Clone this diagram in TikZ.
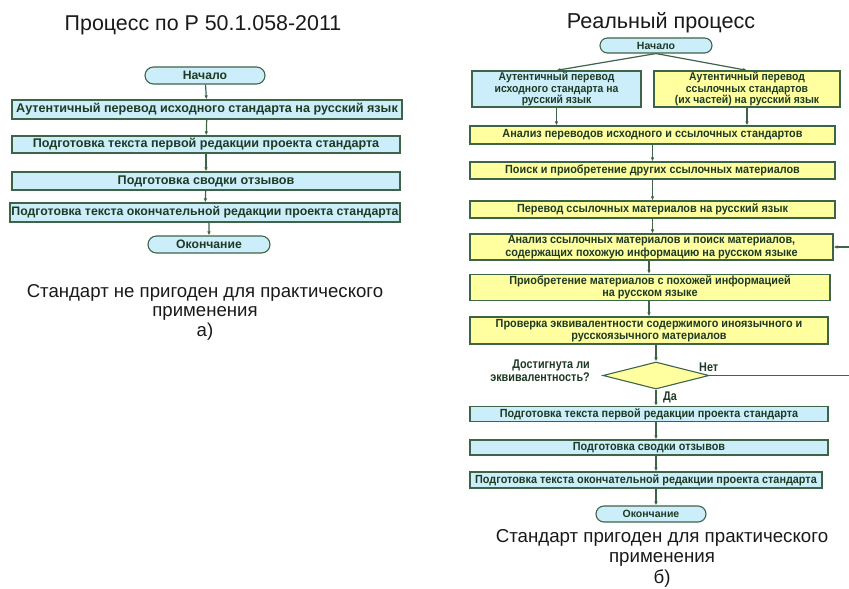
\documentclass[tikz,border=0pt]{standalone}
\usepackage{fontspec}
\setmainfont{Liberation Sans}
\newfontfamily\narrowfont{Liberation Sans}[FakeStretch=0.86]
\newfontfamily\semifont{Liberation Sans}[FakeStretch=0.92]
\usetikzlibrary{shapes.geometric,shapes.misc,arrows.meta}
\definecolor{boxblue}{RGB}{204,238,250}
\definecolor{boxyellow}{RGB}{255,255,160}
\definecolor{edge}{RGB}{62,100,72}
\definecolor{txt}{RGB}{30,58,36}
\definecolor{head}{RGB}{25,25,25}
\tikzset{
  base/.style={draw=edge, line width=1.3pt, text=txt, inner sep=0pt, align=center},
  bluebox/.style={base, fill=boxblue, rectangle},
  yelbox/.style={base, fill=boxyellow, rectangle},
  term/.style={base, fill=boxblue, rounded rectangle, line width=1.1pt},
  decide/.style={base, fill=boxyellow, diamond, line width=1.1pt},
  lbig/.style={font=\fontsize{12.6}{13}\selectfont\bfseries},
  lfit/.style={font=\fontsize{12.3}{13}\selectfont\bfseries},
  rsm/.style={font=\semifont\fontsize{11.8}{12.4}\selectfont\bfseries},
  rtop/.style={font=\semifont\fontsize{11.3}{11.6}\selectfont\bfseries},
  caption/.style={text=head, align=center, inner sep=0pt},
  conn/.style={draw=edge, line width=1.2pt, -{Latex[length=4pt,width=3.6pt]}},
  lbl/.style={text=txt, inner sep=0pt, font=\narrowfont\fontsize{12.6}{12.8}\selectfont\bfseries}
}
\begin{document}
\begin{tikzpicture}[x=1pt,y=-1pt]
\useasboundingbox (0,0) rectangle (849,589);
% ---------- left: a) ----------
\node[caption, font=\fontsize{21.4}{22}\selectfont] (titleA) at (203,25) {Процесс по Р 50.1.058-2011};
\node[term, font=\fontsize{12.2}{13}\selectfont\bfseries, minimum width=120, minimum height=17] (a0) at (205,75.5) {Начало};
\node[bluebox, lbig, minimum width=390, minimum height=19] (a1) at (207,109.5) {Аутентичный перевод исходного стандарта на русский язык};
\node[bluebox, lbig, minimum width=388, minimum height=17] (a2) at (206,144.5) {Подготовка текста первой редакции проекта стандарта};
\node[bluebox, lbig, minimum width=388, minimum height=18] (a3) at (206,181) {Подготовка сводки отзывов};
\node[bluebox, lfit, minimum width=390, minimum height=19] (a4) at (205,212.5) {Подготовка текста окончательной редакции проекта стандарта};
\node[term, font=\fontsize{12.2}{13}\selectfont\bfseries, minimum width=122, minimum height=17] (a5) at (209,244.5) {Окончание};
\draw[conn] (a0) -- (a1);
\draw[conn] (a1) -- (a2);
\draw[conn] (a2) -- (a3);
\draw[conn] (a3) -- (a4);
\draw[conn] (a4.south -| a5) -- (a5);
\node[caption, font=\fontsize{18.6}{19.5}\selectfont] (capA) at (205,312) {Стандарт не пригоден для практического\\применения\\а)};
% ---------- right: b) ----------
\node[caption, font=\fontsize{21.6}{22}\selectfont] (titleB) at (661,23) {Реальный процесс};
\node[term, font=\fontsize{10.5}{12}\selectfont\bfseries, minimum width=112, minimum height=15] (b0) at (656,45.5) {Начало};
\node[bluebox, rtop, minimum width=169, minimum height=36] (b1l) at (556.5,89) {Аутентичный перевод\\исходного стандарта на\\русский язык};
\node[yelbox, rtop, minimum width=186, minimum height=36] (b1r) at (747,89) {Аутентичный перевод\\ссылочных стандартов\\(их частей) на русский язык};
\node[yelbox, rsm, minimum width=365, minimum height=18] (b2) at (652.5,135) {Анализ переводов исходного и ссылочных стандартов};
\node[yelbox, rsm, minimum width=365, minimum height=17] (b3) at (652.5,170.5) {Поиск и приобретение других ссылочных  материалов};
\node[yelbox, rsm, minimum width=365, minimum height=17] (b4) at (652.5,209.5) {Перевод ссылочных материалов на русский язык};
\node[yelbox, rsm, minimum width=363, minimum height=26] (b5) at (651.5,247) {Анализ ссылочных материалов и поиск материалов,\\содержащих похожую информацию на русском языке};
\node[yelbox, rsm, minimum width=360, minimum height=26] (b6) at (650,287.5) {Приобретение материалов с похожей информацией\\на русском языке};
\node[yelbox, rsm, minimum width=358, minimum height=27] (b7) at (649,330.5) {Проверка эквивалентности содержимого иноязычного и\\русскоязычного материалов};
\node[decide, minimum width=106, minimum height=27] (d) at (656,375.5) {};
\node[bluebox, rsm, minimum width=358, minimum height=15] (b8) at (649,414) {Подготовка текста первой редакции проекта стандарта};
\node[bluebox, rsm, minimum width=358, minimum height=15] (b9) at (649,447.5) {Подготовка сводки отзывов};
\node[bluebox, rsm, minimum width=352, minimum height=16] (b10) at (646,480) {Подготовка текста окончательной редакции проекта  стандарта};
\node[term, font=\fontsize{10.5}{12}\selectfont\bfseries, minimum width=110, minimum height=16] (b11) at (651,514) {Окончание};
\node[caption, font=\fontsize{18.7}{20.5}\selectfont] (capB) at (662,558) {Стандарт пригоден для практического\\применения\\б)};
% labels
\node[lbl, anchor=east, align=right] (q) at (590,371) {Достигнута ли\\эквивалентность?};
\node[lbl, anchor=south west] (no) at (699,372) {Нет};
\node[lbl, anchor=west] (yes) at (663,397) {Да};
\coordinate (loopc) at (852,375.5);
% connectors
\draw[conn] (b0.south) -- (b1l.north);
\draw[conn] (b0.south) -- (b1r.north);
\draw[conn] (b1l.south) -- (b1l.south |- b2.north);
\draw[conn] (b1r.south) -- (b1r.south |- b2.north);
\draw[conn] (b2) -- (b3);
\draw[conn] (b3) -- (b4);
\draw[conn] (b4) -- (b4.south |- b5.north);
\draw[conn] (b5.south -| b7) -- (b6.north -| b7);
\draw[conn] (b6.south -| b7) -- (b7.north);
\draw[conn] (b7.south -| d) -- (d.north);
\draw[conn] (d.south) -- (d.south |- b8.north);
\draw[conn] (b8.south -| d) -- (b9.north -| d);
\draw[conn] (b9.south -| d) -- (b10.north -| d);
\draw[conn] (b10.south -| d) -- (b11.north -| d);
\draw[conn] (d.east) -- (loopc) |- (b5.east);
\end{tikzpicture}
\end{document}
